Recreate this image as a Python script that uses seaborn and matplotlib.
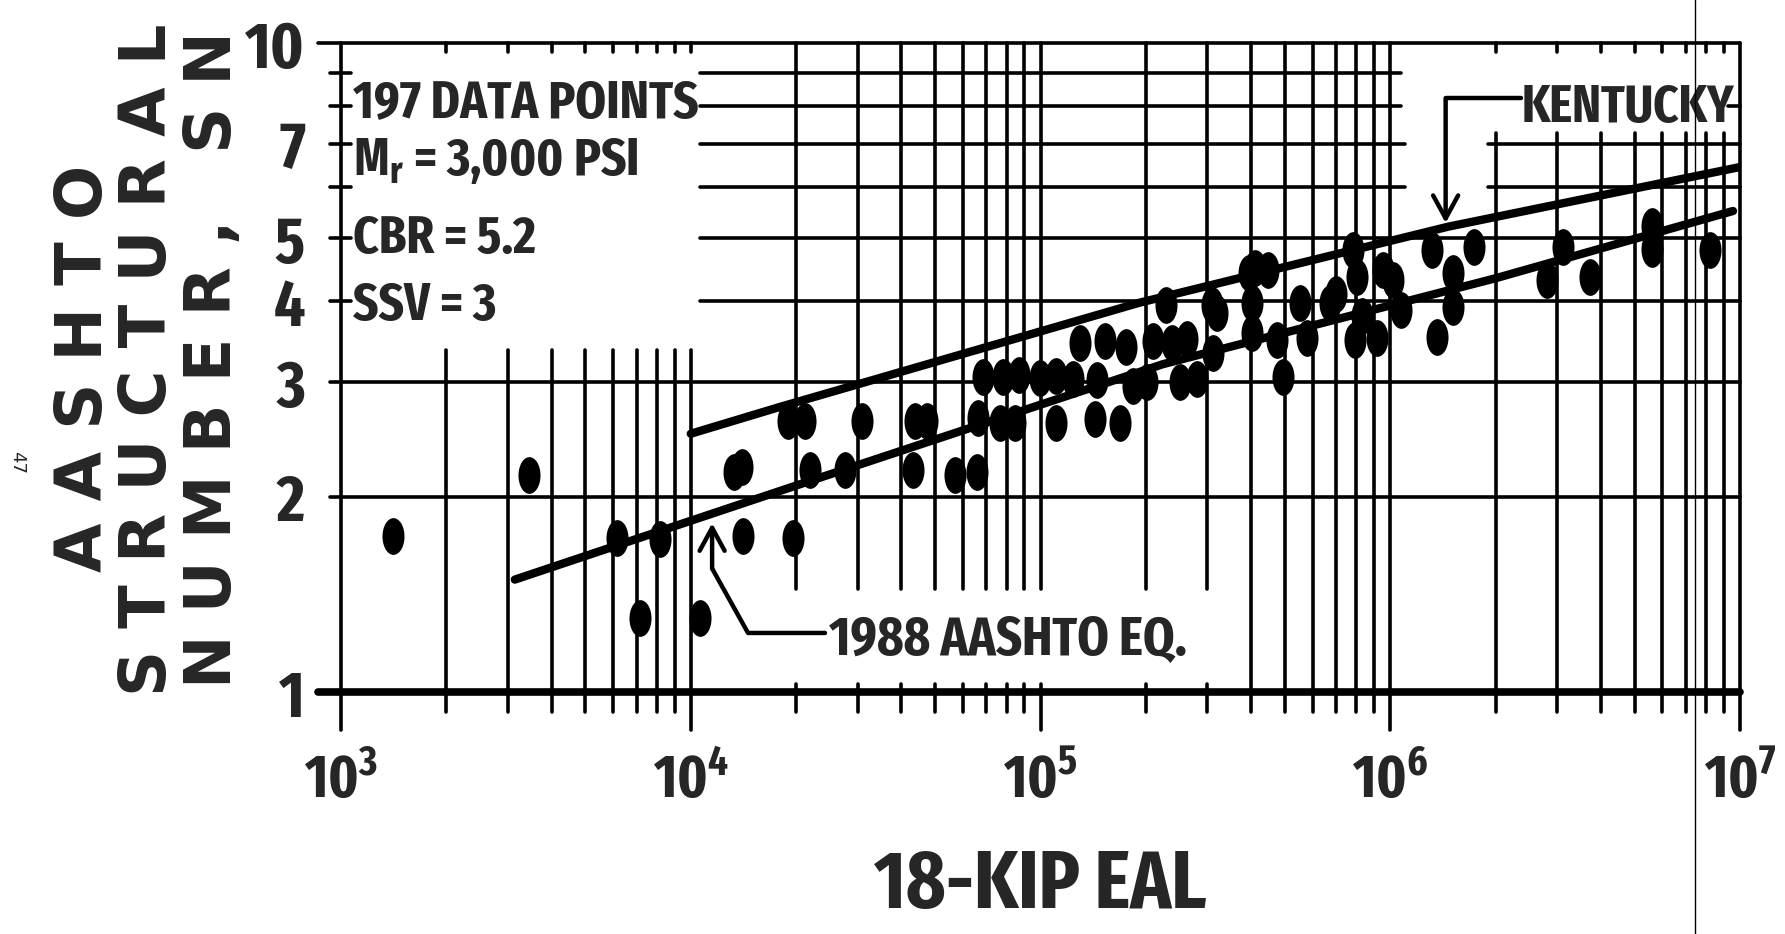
import os

os.environ.setdefault("MPLCONFIGDIR", "/tmp/sn-eal-matplotlib")

import matplotlib

matplotlib.use("Agg")

import matplotlib.pyplot as plt
import seaborn as sns
from matplotlib import font_manager
from matplotlib.font_manager import FontProperties
from matplotlib.lines import Line2D
from matplotlib.path import Path
from matplotlib.textpath import TextPath
from matplotlib.ticker import NullLocator
from matplotlib.transforms import Affine2D

# observed pavement sections: 18-kip EAL and AASHTO structural number
eal = [
    1410, 3450, 6150, 7160, 8170, 10600, 13300, 14000, 14100, 19000,
    19600, 21200, 21900, 27600, 30900, 43200, 43700, 47300, 57000, 65800,
    66200, 68500, 76600, 78000, 84500, 87000, 99500, 111000, 111000, 124000,
    130000, 143000, 145000, 153000, 169000, 175000, 184000, 201000, 210000, 228000,
    238000, 251000, 262000, 280000, 309000, 311000, 320000, 395000, 403000, 403000,
    410000, 448000, 474000, 493000, 552000, 578000, 673000, 700000, 783000, 793000,
    804000, 830000, 916000, 953000, 1020000, 1070000, 1320000, 1360000, 1510000, 1510000,
    1730000, 2810000, 3120000, 3720000, 5600000, 5600000, 8200000,
]
structural_number = [
    1.74, 2.16, 1.73, 1.30, 1.72, 1.30, 2.18, 2.22, 1.74, 2.62,
    1.73, 2.62, 2.20, 2.20, 2.62, 2.20, 2.62, 2.62, 2.16, 2.18,
    2.64, 3.06, 2.60, 3.06, 2.60, 3.08, 3.05, 3.07, 2.60, 3.04,
    3.45, 2.63, 3.02, 3.48, 2.60, 3.40, 2.96, 3.00, 3.47, 3.95,
    3.45, 3.00, 3.50, 3.04, 3.95, 3.33, 3.84, 4.42, 3.98, 3.57,
    4.50, 4.47, 3.49, 3.06, 3.98, 3.51, 3.98, 4.10, 4.80, 3.49,
    4.36, 3.80, 3.51, 4.47, 4.31, 3.88, 4.80, 3.52, 4.42, 3.92,
    4.85, 4.31, 4.85, 4.36, 4.82, 5.22, 4.80,
]

# 1988 AASHTO design equation curve
aashto_eal = [3140, 20000, 224000, 2000000, 9550000]
aashto_sn = [1.49, 2.08, 3.20, 4.34, 5.51]

# Kentucky design curve
kentucky_eal = [10000, 18000, 192000, 1460000, 10000000]
kentucky_sn = [2.50, 2.75, 3.98, 5.21, 6.44]

x_ticks = [1e3, 1e4, 1e5, 1e6, 1e7]
x_tick_labels = [r"$\mathregular{10^{%d}}$" % p for p in (3, 4, 5, 6, 7)]
y_ticks = [1, 2, 3, 4, 5, 7, 10]
notes = ["197 DATA POINTS", r"M$_{\mathregular{r}}$ = 3,000 PSI", "CBR = 5.2", "SSV = 3"]
y_label_lines = ["AASHTO", "STRUCTURAL", "NUMBER, SN"]


def condensed_bold():
    # the scan uses a condensed bold sans; take the narrowest one installed
    rank = {"ExtraCondensed": 0, "Narrow": 1, "SemiCondensed": 3, "Condensed": 2}
    best = None
    for f in font_manager.fontManager.ttflist:
        weight = f.weight if isinstance(f.weight, int) else (700 if f.weight == "bold" else 400)
        if not 600 <= weight <= 800 or f.style != "normal":
            continue
        label = f.name + " " + os.path.basename(f.fname)
        score = next((v for key, v in rank.items() if key in label), None)
        if score is None and "condensed" in str(f.stretch):
            score = 4
        if score is not None and (best is None or score < best[0]):
            best = (score, f.fname)
    if best:
        return FontProperties(fname=best[1])
    return FontProperties(family="Liberation Sans", weight="bold")


NARROW = condensed_bold()


def fitted(text, width_px, cap_px):
    ink = TextPath((0, 0), text, size=100, prop=NARROW).get_extents()
    cap = TextPath((0, 0), "H", size=100, prop=NARROW).get_extents()
    size = min(72 * width_px / ink.width * 1.04, 72 * cap_px / cap.height)
    fp = NARROW.copy()
    fp.set_size(size)
    return fp


sns.set_style("white")
plt.rcParams["font.family"] = ["Liberation Sans", "DejaVu Sans"]
plt.rcParams["font.weight"] = "bold"

fig = plt.figure(figsize=(17.85, 9.34), dpi=100)
ax = fig.add_axes([341 / 1785, 1 - 692 / 934, 1399 / 1785, 649 / 934])
ax.set_xscale("log")
ax.set_yscale("log")

# hand-drawn style grid: segments interrupted around the annotations
grid_kw = dict(color="black", linewidth=2.6, clip_on=False, zorder=1)
decades = [1e3, 1e4, 1e5, 1e6, 1e7]
grid_x = sorted(decades + [m * 10 ** d for d in range(3, 7) for m in range(2, 10)])
for gx in grid_x:
    bottom = 0.874 if gx in decades else 0.932
    if gx in (1e3, 1e7) or 3e5 < gx <= 1e6:
        spans = [(bottom, 10)]
    elif gx <= 1e4:
        spans = [(bottom, 3.36), (9.68, 10)]
    elif gx <= 3e5:
        spans = [(bottom, 1.03), (1.44, 10)]
    else:
        spans = [(bottom, 7.27), (9.68, 10)]
    for lo, hi in spans:
        ax.plot([gx, gx], [lo, hi], **grid_kw)

h_segments = [
    (10, 860, 1e7), (9, 10600, 1.07e6), (8, 10600, 1.07e6), (8, 9.25e6, 1e7),
    (7, 10600, 1.10e6), (7, 1.9e6, 1e7), (6, 10600, 1.10e6), (6, 1.9e6, 1e7),
    (5, 10600, 1e7), (4, 10600, 1e7), (3, 930, 1e7), (2, 930, 1e7),
]
for gy, x0, x1 in h_segments:
    ax.plot([x0, x1], [gy, gy], **grid_kw)
for gy in [9, 8, 7, 6, 5, 4]:
    ax.plot([930, 1070], [gy, gy], **grid_kw)
ax.plot([860, 1e7], [1, 1], color="black", linewidth=5.5, clip_on=False, zorder=1)

dot = Path.unit_circle().transformed(Affine2D().scale(0.6, 1.0))
sns.scatterplot(x=eal, y=structural_number, marker=dot, s=700, color="black",
                linewidth=0, legend=False, ax=ax, zorder=4)
sns.lineplot(x=aashto_eal, y=aashto_sn, color="black", linewidth=6,
             estimator=None, sort=False, ax=ax, zorder=3)
sns.lineplot(x=kentucky_eal, y=kentucky_sn, color="black", linewidth=6,
             estimator=None, sort=False, ax=ax, zorder=3)

ax.set_xlim(1e3, 1e7)
ax.set_ylim(1, 10)
for side in ax.spines.values():
    side.set_visible(False)

ax.set_xticks(x_ticks, labels=x_tick_labels, fontproperties=fitted("10", 50, 50))
ax.set_yticks(y_ticks, labels=[str(v) for v in y_ticks],
              fontproperties=fitted("10", 55, 48))
ax.xaxis.set_minor_locator(NullLocator())
ax.yaxis.set_minor_locator(NullLocator())
ax.tick_params(axis="both", length=0)
ax.tick_params(axis="y", pad=26)
ax.tick_params(axis="x", pad=44)

ax.set_xlabel("18-KIP EAL", fontproperties=fitted("18-KIP EAL", 319, 72))
ax.xaxis.set_label_coords(0.5, -0.333)
ax.xaxis.label.set_verticalalignment("baseline")

# condition notes
note_font = fitted("197 DATA POINTS", 331, 43)
for text, baseline in zip(notes, [7.69, 6.26, 4.75, 3.74]):
    ax.text(1082, baseline, text, fontproperties=note_font, va="baseline", ha="left")

arrow = dict(arrowstyle="->,head_length=0.55,head_width=0.3", lw=3.2, color="black",
             mutation_scale=30, shrinkA=0, shrinkB=0)
ax.plot([11510, 14580, 24200], [1.55, 1.233, 1.233], color="black", lw=3.2, zorder=5)
ax.annotate("", xy=(11510, 1.82), xytext=(11510, 1.55), arrowprops=arrow, zorder=5)
ax.text(24800, 1.14, "1988 AASHTO EQ.", fontproperties=fitted("1988 AASHTO EQ.", 343, 43),
        va="baseline", ha="left")

ax.plot([1.44e6, 2.36e6], [8.22, 8.22], color="black", lw=3.2, zorder=5)
ax.annotate("", xy=(1.44e6, 5.28), xytext=(1.44e6, 8.22), arrowprops=arrow, zorder=5)
ax.text(2.38e6, 7.55, "KENTUCKY", fontproperties=fitted("KENTUCKY", 203, 40),
        va="baseline", ha="left")

for line, xc, yc in zip(y_label_lines, [0.0471, 0.0829, 0.1193], [0.606, 0.615, 0.615]):
    spread = "   ".join(" ".join(word) for word in line.split())
    fig.text(xc, yc, spread, rotation=90, ha="center", va="center",
             family="DejaVu Sans", fontweight="bold", fontsize=46)

fig.text(17 / 1785, 1 - 463 / 934, "47", rotation=-90, ha="center", va="center",
         family="DejaVu Sans", fontweight="normal", fontsize=13)
fig.add_artist(Line2D([1695 / 1785, 1695 / 1785], [0, 1], color="black", linewidth=1.0))

fig.savefig("out.png", dpi=100)
plt.close(fig)
